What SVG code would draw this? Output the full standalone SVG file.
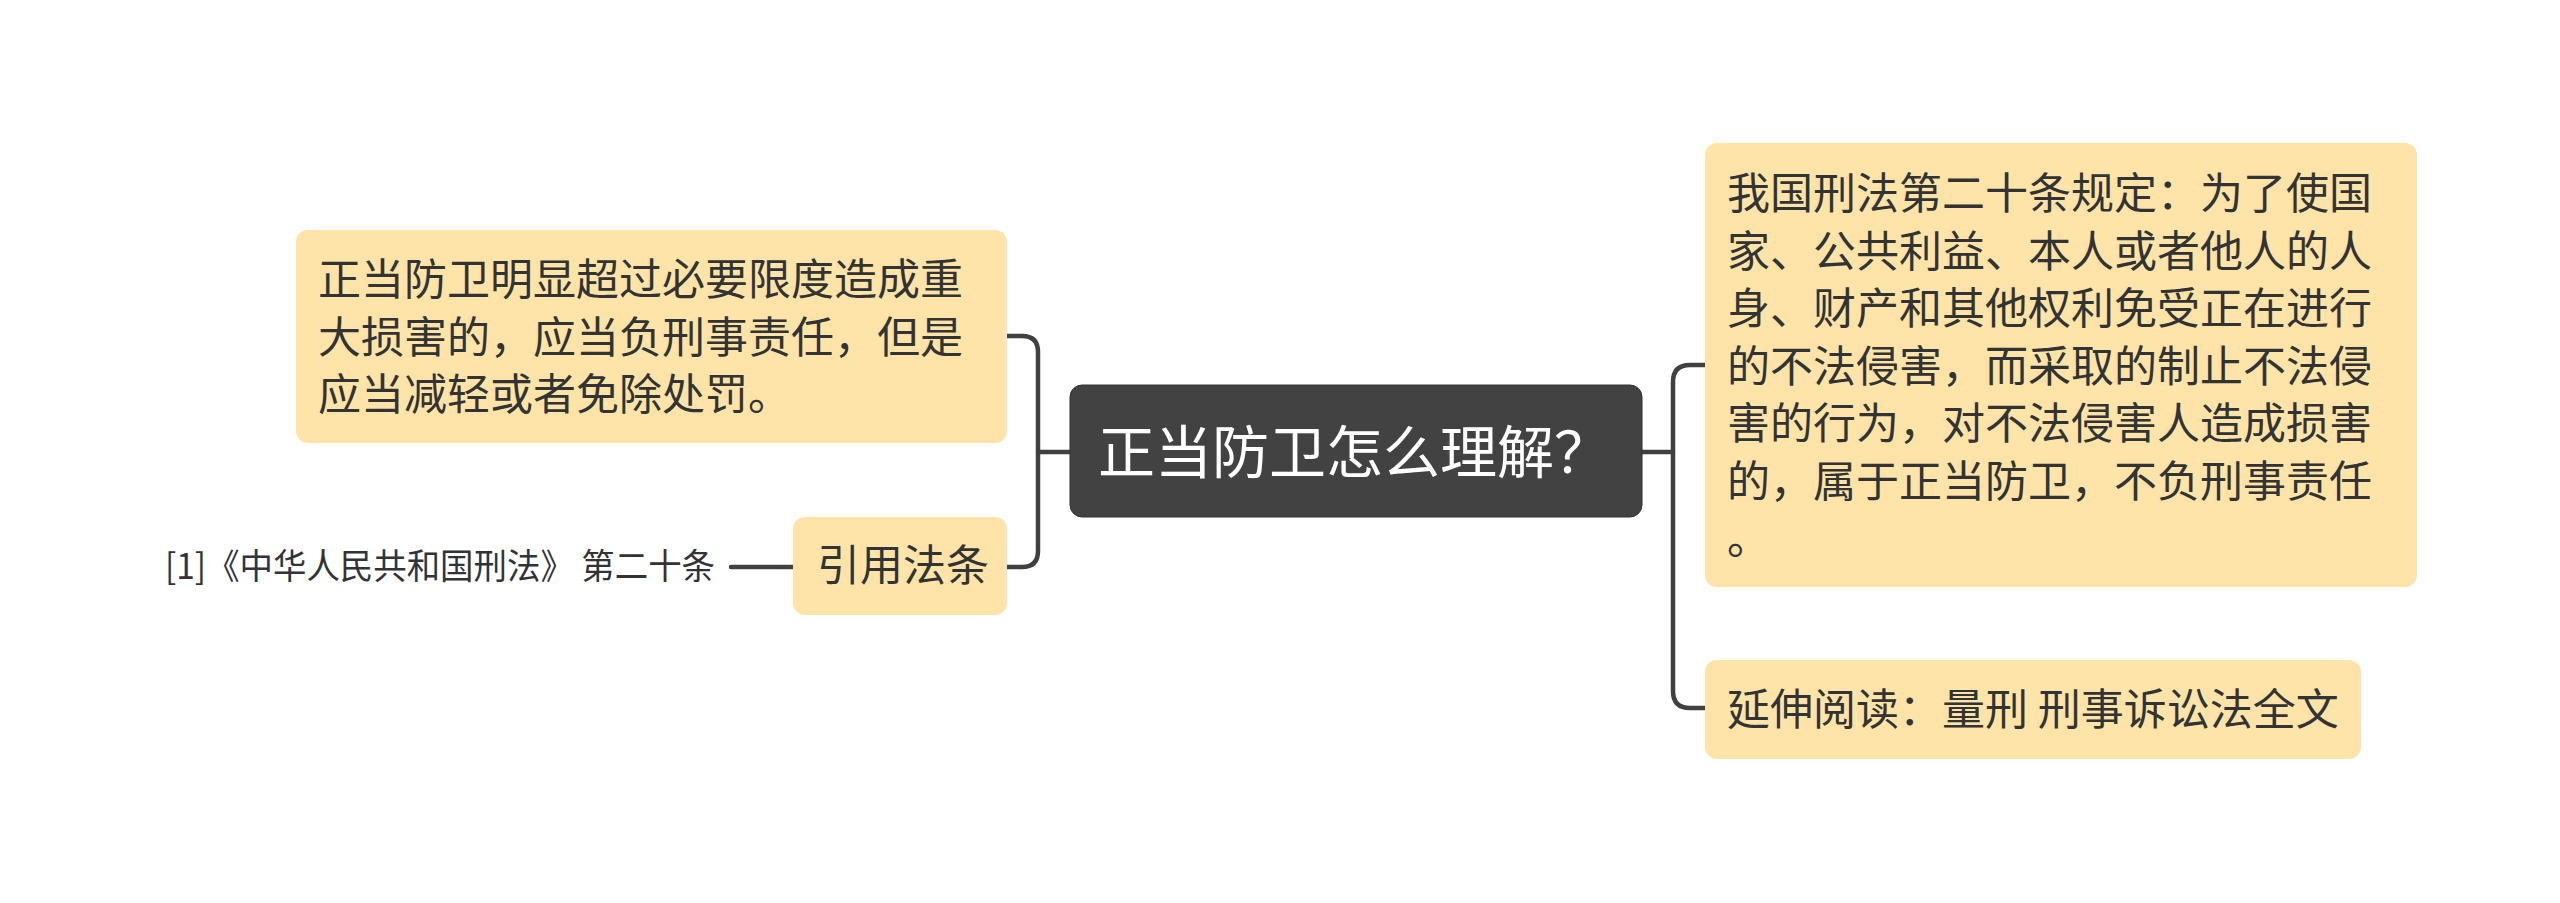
<svg xmlns="http://www.w3.org/2000/svg" width="2560" height="903" viewBox="0 0 2560 903">
<style>
.t{font-family:"Noto Sans CJK SC","Noto Sans",sans-serif;fill:#333333;}
.box{fill:#fee4a9;}
.conn{fill:none;stroke:#404040;stroke-width:4.5;stroke-linecap:round;stroke-linejoin:round;}
</style>
<rect width="2560" height="903" fill="#ffffff"/>
<g id="connectors">
<path class="conn" d="M1642,452 H1673"/>
<path class="conn" d="M1705,365 H1690 Q1673,365 1673,382 V691 Q1673,708 1690,708 H1705"/>
<path class="conn" d="M1070,452 H1038"/>
<path class="conn" d="M1007,336 H1022 Q1038,336 1038,352 V551 Q1038,567 1022,567 H1007"/>
<path class="conn" d="M731,567 H793"/>
</g>
<g id="root">
<rect x="1070" y="385" width="572" height="132" rx="12" fill="#424242" stroke="#333333" stroke-width="1"/>
<text class="t" x="1098" y="473" font-size="57" style="fill:#ffffff">正当防卫怎么理解？</text>
</g>
<g id="node-left-1">
<rect class="box" x="296" y="230" width="711" height="213" rx="12"/>
<text class="t" font-size="43">
<tspan x="318" y="295">正当防卫明显超过必要限度造成重</tspan>
<tspan x="318" y="352.5">大损害的，应当负刑事责任，但是</tspan>
<tspan x="318" y="410">应当减轻或者免除处罚。</tspan>
</text>
</g>
<g id="node-left-2">
<rect class="box" x="793" y="517" width="214" height="98" rx="12"/>
<text class="t" x="817" y="581" font-size="43">引用法条</text>
</g>
<g id="node-citation">
<text class="t" x="165" y="579" font-size="35" textLength="550" lengthAdjust="spacingAndGlyphs">[1]《中华人民共和国刑法》 第二十条</text>
</g>
<g id="node-right-1">
<rect class="box" x="1705" y="143" width="712" height="444" rx="12"/>
<text class="t" font-size="43">
<tspan x="1727" y="209">我国刑法第二十条规定：为了使国</tspan>
<tspan x="1727" y="266.5">家、公共利益、本人或者他人的人</tspan>
<tspan x="1727" y="324">身、财产和其他权利免受正在进行</tspan>
<tspan x="1727" y="381.5">的不法侵害，而采取的制止不法侵</tspan>
<tspan x="1727" y="439">害的行为，对不法侵害人造成损害</tspan>
<tspan x="1727" y="496.5">的，属于正当防卫，不负刑事责任</tspan>
<tspan x="1727" y="554">。</tspan>
</text>
</g>
<g id="node-right-2">
<rect class="box" x="1705" y="660" width="656" height="99" rx="12"/>
<text class="t" x="1727" y="725" font-size="43">延伸阅读：量刑 刑事诉讼法全文</text>
</g>
</svg>
